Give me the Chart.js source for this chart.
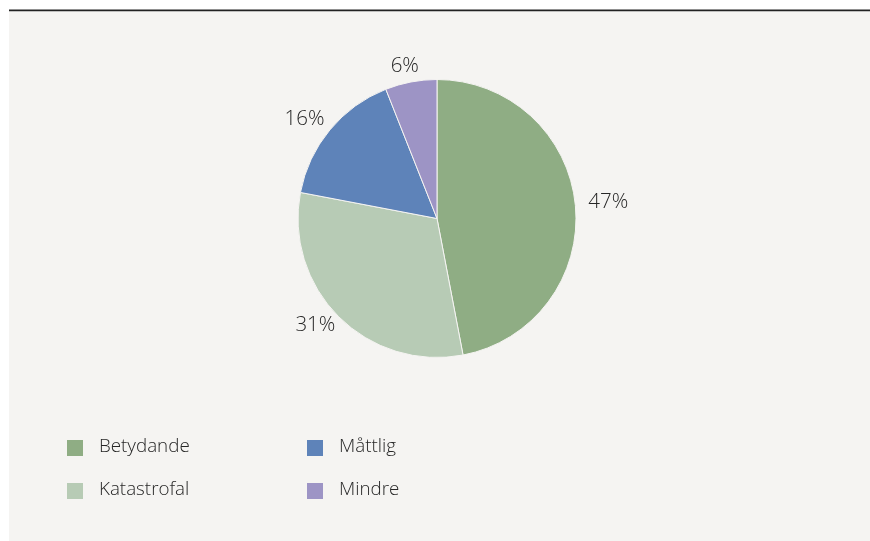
<!DOCTYPE html>
<html>
<head>
<meta charset="utf-8">
<script src="https://cdn.jsdelivr.net/npm/chart.js@4"></script>
<style>
  html, body { margin: 0; padding: 0; background: #ffffff; }
  #wrap { width: 870px; height: 541px; position: relative; }
</style>
</head>
<body>
<div id="wrap"><canvas id="c" width="870" height="541"></canvas></div>
<script>
// Share of outcomes per severity class (percent)
const categories = ['Betydande', 'Katastrofal', 'Måttlig', 'Mindre'];
const shares = [47, 31, 16, 6];
const sliceColors = ['#8fad84', '#b7cbb5', '#5e83b9', '#9d94c5'];

const FONT = '"Open Sans", Lato, sans-serif';
const TEXT = '#262626';
const PANEL = '#f5f4f2';

// Grey panel with a dark rule across its top edge
const panelPlugin = {
  id: 'panel',
  beforeDraw(chart) {
    const ctx = chart.ctx;
    ctx.save();
    ctx.fillStyle = PANEL;
    ctx.fillRect(9, 10, chart.width - 9, 531);
    ctx.fillStyle = '#222222';
    ctx.fillRect(9, 9.5, chart.width - 9, 1.5);
    ctx.fillStyle = '#9a9a9a';
    ctx.fillRect(9, 11, chart.width - 9, 0.6);
    ctx.restore();
  }
};

// Percent labels placed outside each slice, on a slightly flattened ring
const outsideLabels = {
  id: 'outsideLabels',
  afterDatasetsDraw(chart) {
    const ctx = chart.ctx;
    const meta = chart.getDatasetMeta(0);
    const data = chart.data.datasets[0].data;
    ctx.save();
    ctx.font = '300 20.5px ' + FONT;
    ctx.fillStyle = TEXT;
    ctx.textAlign = 'center';
    ctx.textBaseline = 'middle';
    meta.data.forEach((arc, i) => {
      const p = arc.getProps(['x', 'y', 'startAngle', 'endAngle', 'outerRadius'], true);
      const mid = (p.startAngle + p.endAngle) / 2;
      const dx = Math.cos(mid), dy = Math.sin(mid);
      const rx = p.outerRadius + 33;
      const ry = p.outerRadius + 14;
      ctx.fillText(data[i] + '%', p.x + dx * rx, p.y + dy * ry - 2);
    });
    ctx.restore();
  }
};

// Two-column legend below the pie (column-major order)
const gridLegend = {
  id: 'gridLegend',
  afterDraw(chart) {
    const ctx = chart.ctx;
    const labels = chart.data.labels;
    const colors = chart.data.datasets[0].backgroundColor;
    const colX = [67, 307];
    const rowY = [448, 491];
    const rows = 2;
    ctx.save();
    ctx.font = '300 18.8px ' + FONT;
    ctx.textAlign = 'left';
    ctx.textBaseline = 'middle';
    labels.forEach((lab, i) => {
      const col = Math.floor(i / rows), row = i % rows;
      const x = colX[col], y = rowY[row];
      ctx.fillStyle = colors[i];
      ctx.fillRect(x, y - 8, 16, 16);
      ctx.fillStyle = TEXT;
      ctx.fillText(lab, x + 32, y - 1);
    });
    ctx.restore();
  }
};

new Chart(document.getElementById('c'), {
  type: 'pie',
  data: {
    labels: categories,
    datasets: [{
      data: shares,
      backgroundColor: sliceColors,
      borderColor: PANEL,
      borderWidth: 1
    }]
  },
  options: {
    responsive: false,
    animation: false,
    layout: { padding: { top: 79, bottom: 183, left: 4, right: 0 } },
    plugins: {
      legend: { display: false },
      tooltip: { enabled: false }
    }
  },
  plugins: [panelPlugin, outsideLabels, gridLegend]
});
</script>
</body>
</html>
